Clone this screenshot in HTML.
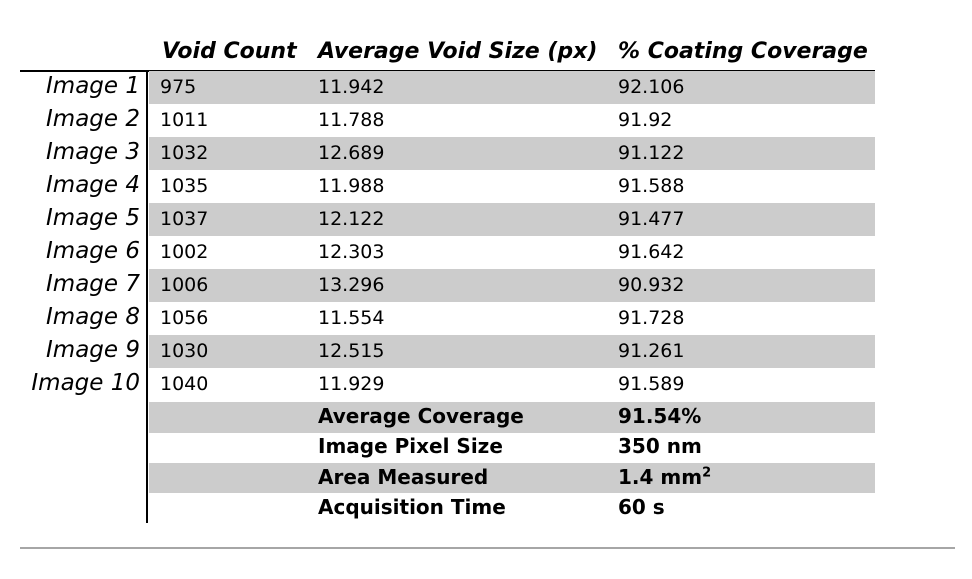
<!DOCTYPE html>
<html><head><meta charset="utf-8">
<style>
body{margin:0;width:972px;height:579px;background:#fff;position:relative;overflow:hidden;font-family:"DejaVu Sans","Liberation Sans",sans-serif;color:#000}
.a{position:absolute;white-space:nowrap}
.h{font-style:italic;font-weight:bold;font-size:22px;top:39px}
.band{position:absolute;left:149px;width:726px;background:#cccccc}
.lbl{font-style:italic;font-size:23px;right:832px}
.d{font-size:19px}
.b{font-weight:bold;font-size:20px}
</style></head><body>
<div class="a h" style="left:162px">Void Count</div>
<div class="a h" style="left:318px">Average Void Size (px)</div>
<div class="a h" style="left:618px">% Coating Coverage</div>
<div class="a" style="left:20px;top:70px;width:855px;height:1.5px;background:#000"></div>
<div class="a" style="left:146px;top:71px;width:1.5px;height:452px;background:#000"></div>
<div class="a" style="left:20px;top:547px;width:935px;height:2px;background:#a6a6a6"></div>
<div id="t"></div>
<script>
const labels=["Image 1","Image 2","Image 3","Image 4","Image 5","Image 6","Image 7","Image 8","Image 9","Image 10"];
const voids=["975","1011","1032","1035","1037","1002","1006","1056","1030","1040"];
const sizes=["11.942","11.788","12.689","11.988","12.122","12.303","13.296","11.554","12.515","11.929"];
const coverage=["92.106","91.92","91.122","91.588","91.477","91.642","90.932","91.728","91.261","91.589"];
const sumLabels=["Average Coverage","Image Pixel Size","Area Measured","Acquisition Time"];
const sumValues=["91.54%","350 nm","1.4 mm<sup style='font-size:13px'>2</sup>","60 s"];
const t=document.getElementById('t');
function mk(cls,style,html){const e=document.createElement('div');e.className=cls;e.style.cssText=style;e.innerHTML=html;t.appendChild(e);return e;}
for(let i=0;i<labels.length;i++){
  const top=71+i*33;
  if(i%2===0){const b=mk('band','top:'+top+'px;height:33px','');
    
    }
  const ty=top+5;
  let e=mk('a lbl','top:'+(ty-3)+'px',labels[i]);
  
  
  e=mk('a d','left:160px;top:'+ty+'px',voids[i]);
  
  
  e=mk('a d','left:318px;top:'+ty+'px',sizes[i]);
  
  
  e=mk('a d','left:618px;top:'+ty+'px',coverage[i]);
  
  
}
for(let j=0;j<sumLabels.length;j++){
  const top=402+j*30.33;
  if(j%2===0){const b=mk('band','top:'+top+'px;height:30.5px','');
    
    }
  let e=mk('a b','left:318px;top:'+(top+2)+'px',sumLabels[j]);
  
  
  e=mk('a b','left:618px;top:'+(top+2)+'px',sumValues[j]);
  
  
}
</script>
</body></html>
